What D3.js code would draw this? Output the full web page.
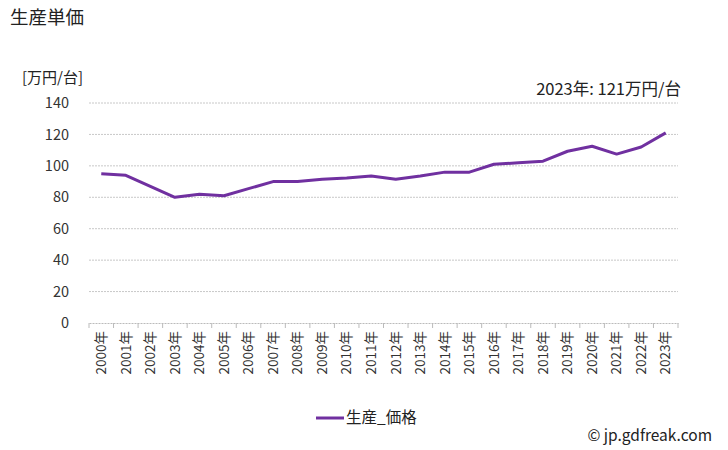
<!DOCTYPE html>
<html>
<head>
<meta charset="utf-8">
<script src="https://d3js.org/d3.v7.min.js"></script>
<style>
  body { margin: 0; background: #fff; }
  svg { font-family: "Noto Sans CJK JP", "Noto Sans", sans-serif; }
</style>
</head>
<body>
<div id="chart"></div>
<script>
const years = ["2000年","2001年","2002年","2003年","2004年","2005年","2006年","2007年","2008年","2009年","2010年","2011年",
  "2012年","2013年","2014年","2015年","2016年","2017年","2018年","2019年","2020年","2021年","2022年","2023年"];
const prices = [95, 94, 87, 80, 82, 81, 85.5, 90, 90, 91.5, 92.3, 93.5,
  91.5, 93.5, 96, 96, 101, 102, 103, 109.3, 112.5, 107.5, 112, 121];
const yTicks = [0, 20, 40, 60, 80, 100, 120, 140];

const width = 728, height = 450;
const margin = { left: 89, right: 50, top: 103, bottom: 127 };

const svg = d3.select("#chart").append("svg")
  .attr("width", width)
  .attr("height", height);

const x = d3.scaleBand()
  .domain(years)
  .range([margin.left, width - margin.right]);

const y = d3.scaleLinear()
  .domain([0, 140])
  .range([height - margin.bottom, margin.top]);

// gridlines
svg.append("g")
  .selectAll("line")
  .data(yTicks.filter(d => d > 0))
  .join("line")
  .attr("x1", margin.left)
  .attr("x2", width - margin.right)
  .attr("y1", d => y(d))
  .attr("y2", d => y(d))
  .attr("stroke", "#c8c8c8")
  .attr("stroke-dasharray", "2,1");

// y tick labels
svg.append("g")
  .selectAll("text")
  .data(yTicks)
  .join("text")
  .attr("x", 69)
  .attr("y", d => y(d))
  .attr("dy", "0.35em")
  .attr("text-anchor", "end")
  .attr("font-size", 14.5)
  .attr("fill", "#333")
  .text(d => d);

// x axis
const xAxis = svg.append("g")
  .attr("transform", `translate(0,${y(0)})`)
  .call(d3.axisBottom(x).tickSize(0).tickFormat(""));
xAxis.select(".domain").attr("stroke", "#bbb").attr("stroke-dasharray", "2,1");

svg.append("g")
  .selectAll("line")
  .data(years.concat(["end"]))
  .join("line")
  .attr("x1", (d, i) => margin.left + i * x.step())
  .attr("x2", (d, i) => margin.left + i * x.step())
  .attr("y1", y(0))
  .attr("y2", y(0) + 5)
  .attr("stroke", "#bbb");

svg.append("g")
  .selectAll("text")
  .data(years)
  .join("text")
  .attr("transform", d => `translate(${x(d) + x.bandwidth() / 2},${y(0) + 8}) rotate(-90)`)
  .attr("dy", "0.35em")
  .attr("text-anchor", "end")
  .attr("font-size", 13.5)
  .attr("fill", "#333")
  .text(d => d);

// line
const line = d3.line()
  .x((d, i) => x(years[i]) + x.bandwidth() / 2)
  .y(d => y(d));

svg.append("path")
  .datum(prices)
  .attr("d", line)
  .attr("fill", "none")
  .attr("stroke", "#7030a0")
  .attr("stroke-width", 3)
  .attr("stroke-linejoin", "round");

// titles
svg.append("text")
  .attr("x", 10).attr("y", 24)
  .attr("font-size", 18.5)
  .attr("fill", "#222")
  .text("生産単価");

svg.append("text")
  .attr("x", 22).attr("y", 83)
  .attr("font-size", 15)
  .attr("fill", "#222")
  .text("[万円/台]");

svg.append("text")
  .attr("x", 681).attr("y", 95)
  .attr("text-anchor", "end")
  .attr("font-size", 16.5)
  .attr("fill", "#222")
  .text(`${years[years.length - 1]}: ${prices[prices.length - 1]}万円/台`);

// legend
svg.append("line")
  .attr("x1", 316).attr("x2", 344)
  .attr("y1", 418).attr("y2", 418)
  .attr("stroke", "#7030a0")
  .attr("stroke-width", 3);

svg.append("text")
  .attr("x", 346).attr("y", 418)
  .attr("dy", "0.35em")
  .attr("font-size", 15.5)
  .attr("fill", "#222")
  .text("生産_価格");

svg.append("text")
  .attr("x", 712).attr("y", 441)
  .attr("text-anchor", "end")
  .attr("font-size", 15.5)
  .attr("fill", "#222")
  .text("© jp.gdfreak.com");
</script>
</body>
</html>
